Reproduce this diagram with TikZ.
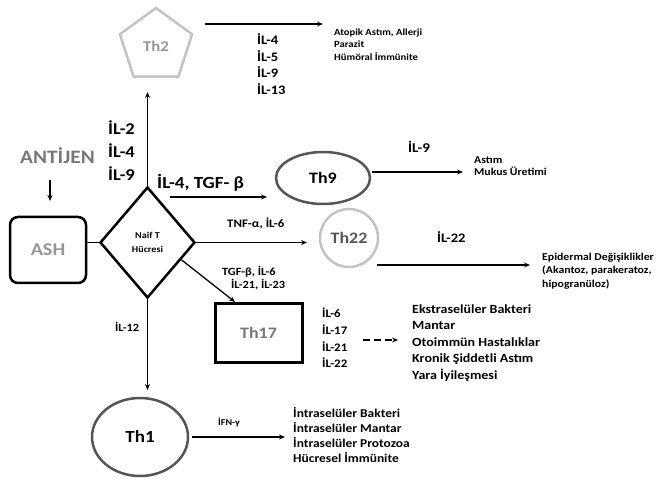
\documentclass[tikz,border=0pt]{standalone}
\usepackage{fontspec}
\setmainfont{Carlito}[FakeStretch=1.12]
\usetikzlibrary{shapes.geometric,arrows.meta,calc}
\definecolor{lgray}{RGB}{195,195,195}
\definecolor{mgray}{RGB}{150,150,150}
\definecolor{dgray}{RGB}{85,85,85}
\definecolor{tgray}{RGB}{120,120,120}
\begin{document}
\begin{tikzpicture}[x=1pt,y=-1pt,
  txt/.style={inner sep=0pt,anchor=west,align=left,font=\bfseries},
  fs/.style n args={2}{execute at begin node={\fontsize{#1}{#2}\selectfont}},
  thin arrow/.style={line width=1.3pt,-{Stealth[length=6pt,width=5pt]}},
  thick arrow/.style={line width=1.6pt,-{Stealth[length=6pt,width=5pt]}},
  cellshape/.style={line width=2.5pt,inner sep=0pt,font=\bfseries}]
\useasboundingbox (0,0) rectangle (661,478);

% cells
\node[cellshape,draw=lgray,text=mgray,regular polygon,regular polygon sides=5,minimum size=76pt,fs={15}{18}] (th2) at (156,46) {Th2};
\node[cellshape,draw=black,rounded corners=8pt,minimum width=76pt,minimum height=66pt,text=mgray,fs={18}{20}] (ash) at (48,250) {ASH};
\node[cellshape,draw=black,diamond,minimum width=95pt,minimum height=111pt,align=center,fs={9}{14}] (naif) at (147.5,242.5) {Naif T\\Hücresi};
\node[cellshape,draw=dgray,ellipse,minimum width=94pt,minimum height=52pt,fs={16}{20}] (th9) at (323,178) {Th9};
\node[cellshape,draw=lgray,circle,minimum size=58pt,text=dgray,fs={16}{18}] (th22) at (349,238) {Th22};
\node[cellshape,line width=3pt,draw=black,minimum width=87pt,minimum height=59pt,text=tgray,fs={16}{21}] (th17) at (258.5,332.5) {Th17};
\node[cellshape,draw=dgray,ellipse,minimum width=96pt,minimum height=78pt,fs={17}{22}] (th1) at (140,437) {Th1};

% labels
\node[txt,fs={13}{16.7}] (l2) at (257,64) {İL-4\\İL-5\\İL-9\\İL-13};
\node[txt,fs={9.5}{12.5}] (r2) at (334,44.3) {Atopik Astım, Allerji\\Parazit\\Hümöral İmmünite};
\node[txt,fs={16.5}{23}] (lup) at (108,151) {İL-2\\İL-4\\İL-9};
\node[txt,fs={19}{20},text=tgray] (ant) at (20,156) {ANTİJEN};
\node[txt,fs={17}{18}] (l9a) at (157,183) {İL-4, TGF- β};
\node[txt,fs={13.5}{16}] (l9b) at (408,147) {İL-9};
\node[txt,fs={10.5}{12.5}] (r9) at (474,166) {Astım\\Mukus Üretimi};
\node[txt,fs={11.5}{12}] (l22a) at (227,223) {TNF-α, İL-6};
\node[txt,fs={13}{13}] (l22b) at (437,237) {İL-22};
\node[txt,fs={10.5}{13.5}] (r22) at (542,271) {Epidermal Değişiklikler\\(Akantoz, parakeratoz,\\hipogranüloz)};
\node[txt,fs={11}{12}] (l17a) at (222,272) {TGF-β, İL-6};
\node[txt,fs={11}{12}] (l17b) at (231,285) {İL-21, İL-23};
\node[txt,fs={11.5}{16.7}] (l17c) at (322,338) {İL-6\\İL-17\\İL-21\\İL-22};
\node[txt,fs={12.5}{16.5}] (r17) at (412,343) {Ekstraselüler Bakteri\\Mantar\\Otoimmün Hastalıklar\\Kronik Şiddetli Astım\\Yara İyileşmesi};
\node[txt,fs={11}{12}] (l1a) at (115,327) {İL-12};
\node[txt,fs={9}{12}] (l1b) at (218,422) {İFN-γ};
\node[txt,fs={12}{15}] (r1) at (293,435.5) {İntraselüler Bakteri\\İntraselüler Mantar\\İntraselüler Protozoa\\Hücresel İmmünite};

% free ends
\coordinate (a2s) at (205,24);
\coordinate (a2e) at (323,24);
\coordinate (upend) at (147.5,92);
\coordinate (ants) at (50,180);
\coordinate (ante) at (50,201);
\coordinate (a9s) at (170,197);
\coordinate (a9e) at (267,197);
\coordinate (a22e) at (307,242.5);
\coordinate (b9s) at (372,172);
\coordinate (b9e) at (463,172);
\coordinate (b22s) at (377,265);
\coordinate (b22e) at (530,265);
\coordinate (a17e) at (235,302);
\coordinate (b17s) at (363,340);
\coordinate (b17e) at (398,340);
\coordinate (a1e) at (147.5,390);
\coordinate (b1s) at (192,437);
\coordinate (b1e) at (285,437);

% connectors
\draw[thin arrow] (a2s) -- (a2e);
\draw[thick arrow] (naif.north) -- (upend);
\draw[thin arrow] (ants) -- (ante);
\draw[line width=1.6pt] (ash.east |- naif.west) -- (naif.west);
\draw[thin arrow] (a9s) -- (a9e);
\draw[thin arrow] (naif.east) -- (a22e);
\draw[thin arrow] (b9s) -- (b9e);
\draw[thin arrow] (b22s) -- (b22e);
\draw[thin arrow] (naif.-27) -- (a17e);
\draw[thin arrow,dash pattern=on 7pt off 4pt] (b17s) -- (b17e);
\draw[thick arrow] (naif.south) -- (a1e);
\draw[thin arrow] (b1s) -- (b1e);
\end{tikzpicture}
\end{document}
